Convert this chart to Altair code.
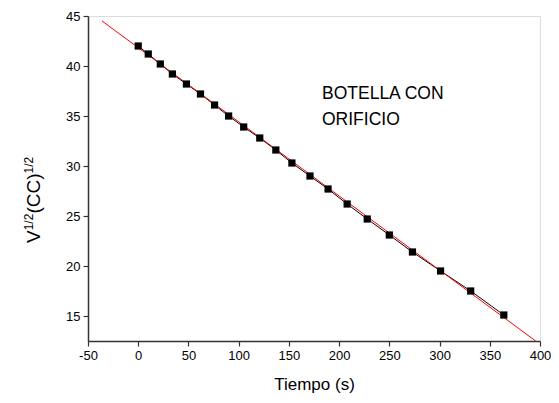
import altair as alt
import pandas as pd

tiempo = [0, 10, 22, 34, 48, 62, 76, 90, 105, 121, 137, 153, 171, 189, 208, 228, 250, 273, 301, 331, 364]
raiz_v = [42.0, 41.2, 40.2, 39.2, 38.2, 37.2, 36.1, 35.0, 33.9, 32.8, 31.6, 30.3, 29.0, 27.7, 26.2, 24.7, 23.1, 21.4, 19.5, 17.5, 15.1]

# linear fit line endpoints
fit_x = [-36, 397]
fit_y = [44.5, 12.4]

x_ticks = [-50, -25, 0, 25, 50, 75, 100, 125, 150, 175, 200, 225, 250, 275, 300, 325, 350, 375, 400]
y_ticks = [15, 17.5, 20, 22.5, 25, 27.5, 30, 32.5, 35, 37.5, 40, 42.5, 45]

FONT = "Liberation Sans"
W, H = 452, 325

df = pd.DataFrame({"t": tiempo, "v": raiz_v})
fit = pd.DataFrame({"t": fit_x, "v": fit_y})

xscale = alt.Scale(domain=[-50, 400], nice=False, zero=False)
yscale = alt.Scale(domain=[12.5, 45], nice=False, zero=False)

xaxis = alt.Axis(
    values=x_ticks, grid=False, title="Tiempo (s)",
    labelExpr="datum.value % 50 === 0 ? '' + datum.value : ''",
    tickSize={"condition": {"test": "datum.value % 50 === 0", "value": 5}, "value": 3},
    domainColor="#333333", domainWidth=1.5, tickColor="#333333", tickWidth=1.2,
    labelFont=FONT, labelFontSize=13, labelColor="black", labelPadding=3,
    titleFont=FONT, titleFontSize=17, titleFontWeight="normal", titleColor="black",
    titlePadding=14, labelFlush=False, labelOverlap=False,
)
yaxis = alt.Axis(
    values=y_ticks, grid=False, title=None,
    labelExpr="datum.value % 5 === 0 ? '' + datum.value : ''",
    tickSize={"condition": {"test": "datum.value % 5 === 0", "value": 5}, "value": 3},
    domainColor="#333333", domainWidth=1.5, tickColor="#333333", tickWidth=1.2,
    labelFont=FONT, labelFontSize=13, labelColor="black", labelPadding=3,
    labelFlush=False, labelOverlap=False,
)

base = alt.Chart(df)

conn = base.mark_line(color="black", strokeWidth=1).encode(
    x=alt.X("t:Q", scale=xscale, axis=xaxis),
    y=alt.Y("v:Q", scale=yscale, axis=yaxis),
)
pts = base.mark_square(color="black", size=52, opacity=1).encode(
    x=alt.X("t:Q", scale=xscale),
    y=alt.Y("v:Q", scale=yscale),
)
fitline = alt.Chart(fit).mark_line(color="#ff0000", strokeWidth=1, clip=True).encode(
    x=alt.X("t:Q", scale=xscale),
    y=alt.Y("v:Q", scale=yscale),
)

note = alt.Chart(pd.DataFrame({"a": [0]})).mark_text(
    text=["BOTELLA CON", "ORIFICIO"], font=FONT, fontSize=17.5, align="left",
    baseline="alphabetic", lineHeight=26, color="black",
).encode(x=alt.value(234), y=alt.value(83))

# y-axis title with superscripts
def ytext(txt, size, xv, yv):
    return alt.Chart(pd.DataFrame({"a": [0]})).mark_text(
        text=txt, font=FONT, fontSize=size, angle=270, align="left",
        baseline="alphabetic", color="black",
    ).encode(x=alt.value(xv), y=alt.value(yv))

y0 = 227
t1 = ytext("V", 19, -48, y0)
t2 = ytext("1/2", 12, -55, y0 - 12.7)
t3 = ytext("(CC)", 19, -48, y0 - 12.7 - 16.7)
t4 = ytext("1/2", 12, -55, y0 - 12.7 - 16.7 - 40.1)

chart = alt.layer(conn, fitline, pts, note, t1, t2, t3, t4).properties(
    width=W, height=H,
    autosize=alt.AutoSizeParams(type="none"),
    padding={"left": 80, "top": 8, "right": 11, "bottom": 54},
).configure_view(stroke=None).configure(background="white")

chart.save("out.html", embed_options={"renderer": "svg", "actions": False})
